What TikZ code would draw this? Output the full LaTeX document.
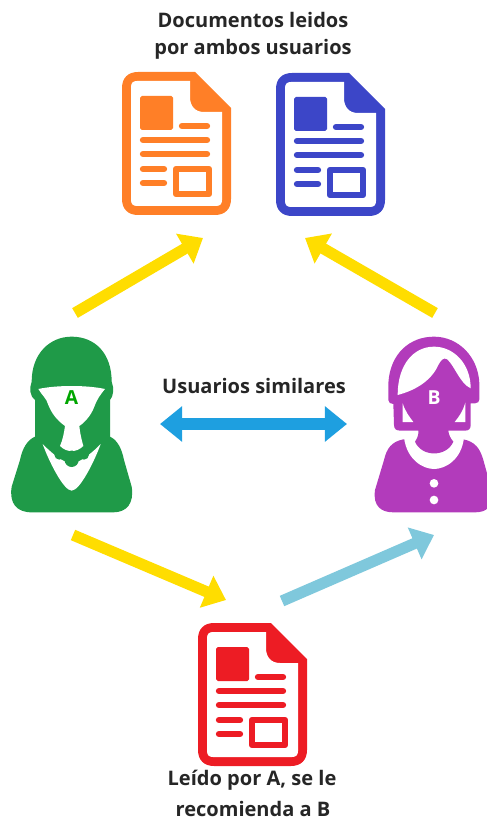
\documentclass[tikz,border=0pt]{standalone}
\usepackage{fontspec}
\setmainfont{Open Sans}
\usetikzlibrary{arrows.meta}
\definecolor{docorange}{HTML}{FF7F27}
\definecolor{docblue}{HTML}{3C46C8}
\definecolor{docred}{HTML}{ED1C24}
\definecolor{userA}{HTML}{1F9A48}
\definecolor{userB}{HTML}{B23BBB}
\definecolor{arrowyellow}{HTML}{FFDD00}
\definecolor{arrowsky}{HTML}{1E9FE0}
\definecolor{arrowpale}{HTML}{7FC8DC}
\tikzset{
  label text/.style={font=\bfseries\fontsize{11.4}{11.4}\selectfont, text=black!85, inner sep=0pt},
  block arrow/.style={line width=6.4pt, -{Triangle[length=12pt,width=19pt]}},
  both arrow/.style={line width=7.2pt, {Triangle[length=12.6pt,width=19.5pt]}-{Triangle[length=12.6pt,width=19.5pt]}},
  doc line/.style={line width=3.6pt, line cap=round},
}
\newcommand{\docicon}[3]{%
\begin{scope}[shift={(#1,#2)}]
\fill[#3] (122,88) .. controls (122,78) and (128,72) .. (138,72) -- (195,72) -- (231,108) -- (231,199) .. controls (231,209) and (225,215) .. (215,215) -- (138,215) .. controls (128,215) and (122,209) .. (122,199) -- cycle;
\fill[white] (131,87) .. controls (131,83) and (133,81) .. (137,81) -- (190,81) -- (190,97) .. controls (190,106) and (195,112) .. (204,112) -- (222,112) -- (222,200) .. controls (222,204) and (220,206) .. (216,206) -- (137,206) .. controls (133,206) and (131,204) .. (131,200) -- cycle;
\fill[#3, rounded corners=1pt] (140,96) rectangle (173,130);
\draw[#3, doc line] (182,126) -- (207,126);
\draw[#3, doc line] (143,140) -- (207,140);
\draw[#3, doc line] (143,154) -- (207,154);
\draw[#3, doc line] (143,169) -- (164,169);
\draw[#3, doc line] (143,183) -- (164,183);
\draw[#3, line width=3.6pt, line join=round] (176,169) rectangle (209,194);
\end{scope}}
\begin{document}
\begin{tikzpicture}[x=0.02cm,y=-0.02cm]
\useasboundingbox (0,0) rectangle (486,820);
% documents
\docicon{0}{0}{docorange}
\docicon{154}{1}{docblue}
\docicon{76}{551}{docred}
% user A
\begin{scope}[shift={(0,320)},scale=1/3]
\fill[userA] (95,185) .. controls (95,100) and (150,50) .. (215,50) .. controls (285,50) and (335,100) .. (335,185) .. controls (343,205) and (340,230) .. (330,240) -- (330,350) .. controls (352,360) and (365,385) .. (372,420) -- (395,500) .. controls (403,550) and (380,577) .. (340,577) -- (95,577) .. controls (50,577) and (27,550) .. (35,500) -- (60,420) .. controls (67,385) and (82,360) .. (105,350) -- (105,240) .. controls (90,230) and (87,205) .. (95,185) -- cycle;
\fill[white] (128,372) .. controls (150,395) and (190,430) .. (215,430) .. controls (240,430) and (280,395) .. (302,372) .. controls (285,420) and (240,512) .. (215,512) .. controls (190,512) and (145,420) .. (128,372) -- cycle;
\fill[userA] (215,420) circle (21);
\fill[userA] (178,404) circle (15);
\fill[userA] (252,404) circle (15);
\fill[white] (115,207) .. controls (170,195) and (260,195) .. (315,207) .. controls (300,225) and (290,240) .. (283,260) .. controls (272,290) and (250,310) .. (238,318) .. controls (240,340) and (245,360) .. (250,378) .. controls (240,388) and (225,395) .. (215,392) .. controls (205,395) and (190,388) .. (180,378) .. controls (188,360) and (192,340) .. (195,318) .. controls (170,300) and (155,280) .. (145,255) .. controls (140,235) and (125,225) .. (115,207) -- cycle;
\node[font=\bfseries\fontsize{11}{11}\selectfont, text=green!65!black, inner sep=0pt] (letterA) at (215,232) {A};
\end{scope}
% user B
\begin{scope}[shift={(360,320)},scale=1/3]
\fill[userB] (45,510) .. controls (38,560) and (65,577) .. (100,577) -- (345,577) .. controls (380,577) and (402,560) .. (395,510) -- (370,420) .. controls (360,385) and (345,365) .. (310,358) -- (130,358) .. controls (95,365) and (80,385) .. (72,420) -- cycle;
\fill[white] (132,352) .. controls (140,420) and (190,447) .. (222,447) .. controls (255,447) and (305,420) .. (312,352) -- cycle;
\fill[userB] (85,190) -- (85,240) .. controls (85,248) and (92,252) .. (100,252) -- (102,315) .. controls (102,328) and (110,332) .. (122,332) -- (175,332) .. controls (176,345) and (172,355) .. (165,365) .. controls (185,412) and (260,412) .. (280,365) .. controls (272,355) and (266,345) .. (265,332) -- (315,332) .. controls (327,332) and (332,326) .. (332,315) -- (332,250) -- (345,250) .. controls (354,250) and (358,245) .. (358,238) -- (358,190) .. controls (355,110) and (295,50) .. (222,50) .. controls (150,50) and (90,100) .. (85,190) -- cycle;
\fill[white] (113,225) .. controls (113,135) and (160,80) .. (222,80) .. controls (280,80) and (332,130) .. (332,205) .. controls (300,190) and (285,140) .. (262,118) .. controls (250,110) and (242,122) .. (235,135) .. controls (215,180) and (170,210) .. (113,225) -- cycle;
\fill[white] (128,250) -- (128,306) -- (160,306) .. controls (148,290) and (136,275) .. (128,250) -- cycle;
\fill[white] (316,248) -- (316,306) -- (284,306) .. controls (297,290) and (308,275) .. (316,248) -- cycle;
\fill[white] (222,490) circle (13);
\fill[white] (222,540) circle (13);
\node[font=\bfseries\fontsize{11}{11}\selectfont, text=white, inner sep=0pt] (letterB) at (222,232) {B};
\end{scope}
% arrows
\coordinate (userAtop) at (75,313);
\coordinate (userBtop) at (435,313);
\coordinate (orangedoc) at (203,238);
\coordinate (bluedoc) at (305,238);
\coordinate (simleft) at (160,424);
\coordinate (simright) at (347,424);
\coordinate (userAlow) at (73,535);
\coordinate (reddoc) at (226,600);
\coordinate (reddocout) at (282,601);
\coordinate (userBlow) at (434,535);
\draw[arrowyellow, block arrow] (userAtop) -- (orangedoc);
\draw[arrowyellow, block arrow] (userBtop) -- (bluedoc);
\draw[arrowsky, both arrow] (simleft) -- (simright);
\draw[arrowyellow, block arrow] (userAlow) -- (reddoc);
\draw[arrowpale, block arrow] (reddocout) -- (userBlow);
% labels
\node[label text] (toplabel1) at (253,20) {Documentos leidos};
\node[label text] (toplabel2) at (253,49) {por ambos usuarios};
\node[label text] (similar) at (254,386) {Usuarios similares};
\node[label text] (lowlabel1) at (252,780) {Leído por A, se le};
\node[label text] (lowlabel2) at (253,809) {recomienda a B};
\end{tikzpicture}
\end{document}
